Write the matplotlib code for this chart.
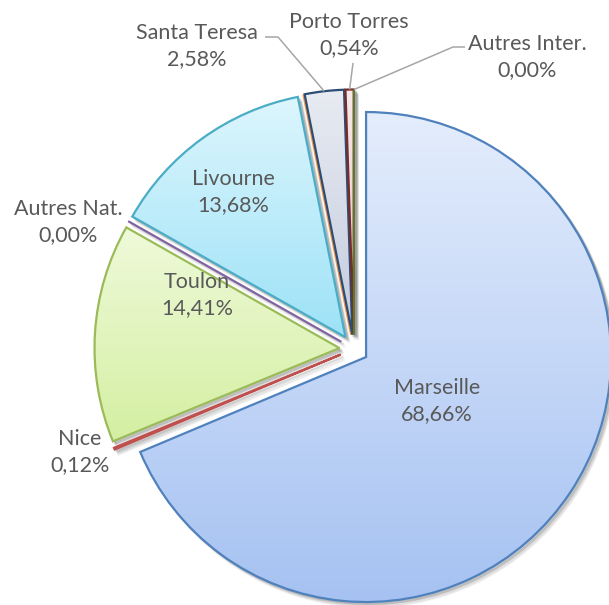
import math
import numpy as np
import matplotlib.pyplot as plt
from matplotlib.colors import LinearSegmentedColormap

# Data (share of traffic, %)
categories = ['Marseille', 'Nice', 'Toulon', 'Autres Nat.', 'Livourne', '',
              'Santa Teresa', 'Porto Torres', 'Autres Inter.']
shares = [68.66, 0.12, 14.41, 0.00, 13.68, 0.00, 2.58, 0.54, 0.00]

# Styles
edge_colors = ['#4F81BD', '#C0504D', '#9BBB59', '#8064A2', '#4BACC6',
               '#F79646', '#2C4D75', '#772C2A', '#5F7530']
fill_top = ['#E4EDFC', '#F7E3E3', '#EFFADA', '#ECE6F3', '#DDF6FD',
            '#FDEBDD', '#E8EBF2', '#F7E8E8', '#EEF2E4']
fill_bottom = ['#A6C2F2', '#E8B0AE', '#D4EFA2', '#C6B6DA', '#9DE2F7',
               '#FBC9A2', '#C3CBDE', '#E2C2C2', '#D3DDB5']

# label anchor (pixel coords, y from top) and optional leader elbow
label_xy = {
    'Marseille': (437, 401), 'Nice': (80, 452), 'Toulon': (197, 295),
    'Autres Nat.': (68, 222), 'Livourne': (233, 192),
    'Santa Teresa': (197, 46), 'Porto Torres': (349, 35),
    'Autres Inter.': (527, 57),
}
leaders = {
    'Santa Teresa': [(265, 37), (278, 37)],
    'Porto Torres': [(353, 63)],
    'Autres Inter.': [(465, 47), (453, 47)],
}

W, H = 609, 605
cx, cy, r = 354, H - 349, 245
expl = 14.5
text_color = '#595959'

fig = plt.figure(figsize=(W / 100, H / 100), dpi=100)
ax = fig.add_axes([0, 0, 1, 1])

# soft shadow
for off, a in [((4, -5), 0.06), ((3, -3), 0.08), ((2, -2), 0.08)]:
    ax.pie(shares, radius=r, center=(cx + off[0], cy + off[1]), startangle=90,
           counterclock=False, explode=[expl] * len(shares),
           wedgeprops=dict(facecolor='black', alpha=a, edgecolor='black',
                           linewidth=1.5))

wedges, _ = ax.pie(shares, radius=r, center=(cx, cy), startangle=90,
                   counterclock=False, explode=[expl] * len(shares),
                   wedgeprops=dict(facecolor='none', linewidth=1.6))

grad = np.linspace(0, 1, 256).reshape(-1, 1)
for i, w in enumerate(wedges):
    w.set_edgecolor(edge_colors[i])
    w.set_zorder(3)
    if shares[i] <= 0:
        continue
    ext = w.get_path().get_extents()
    cmap = LinearSegmentedColormap.from_list('g', [fill_top[i], fill_bottom[i]])
    im = ax.imshow(grad, cmap=cmap, aspect='auto', origin='upper',
                   extent=(ext.x0, ext.x1, ext.y0, ext.y1), zorder=2)
    im.set_clip_path(w)

# labels
for i, name in enumerate(categories):
    if name not in label_xy:
        continue
    lx, ly = label_xy[name]
    txt = name + '\n' + f"{shares[i]:.2f}".replace('.', ',') + '%'
    ax.text(lx, H - ly, txt, ha='center', va='center', fontsize=15.5,
            color=text_color, family=['Lato', 'DejaVu Sans'],
            linespacing=1.4, zorder=5)
    if name in leaders:
        w = wedges[i]
        thetam = math.radians((w.theta1 + w.theta2) / 2)
        ex = w.center[0] + r * math.cos(thetam)
        ey = w.center[1] + r * math.sin(thetam)
        pts = [(x, H - y) for x, y in leaders[name]] + [(ex, ey)]
        ax.plot([p[0] for p in pts], [p[1] for p in pts], color='#A6A6A6',
                linewidth=1.1, zorder=4, solid_capstyle='butt')

ax.set_xlim(0, W)
ax.set_ylim(0, H)
ax.set_aspect('equal')
ax.axis('off')

fig.savefig('out.png', dpi=100, facecolor='white')
